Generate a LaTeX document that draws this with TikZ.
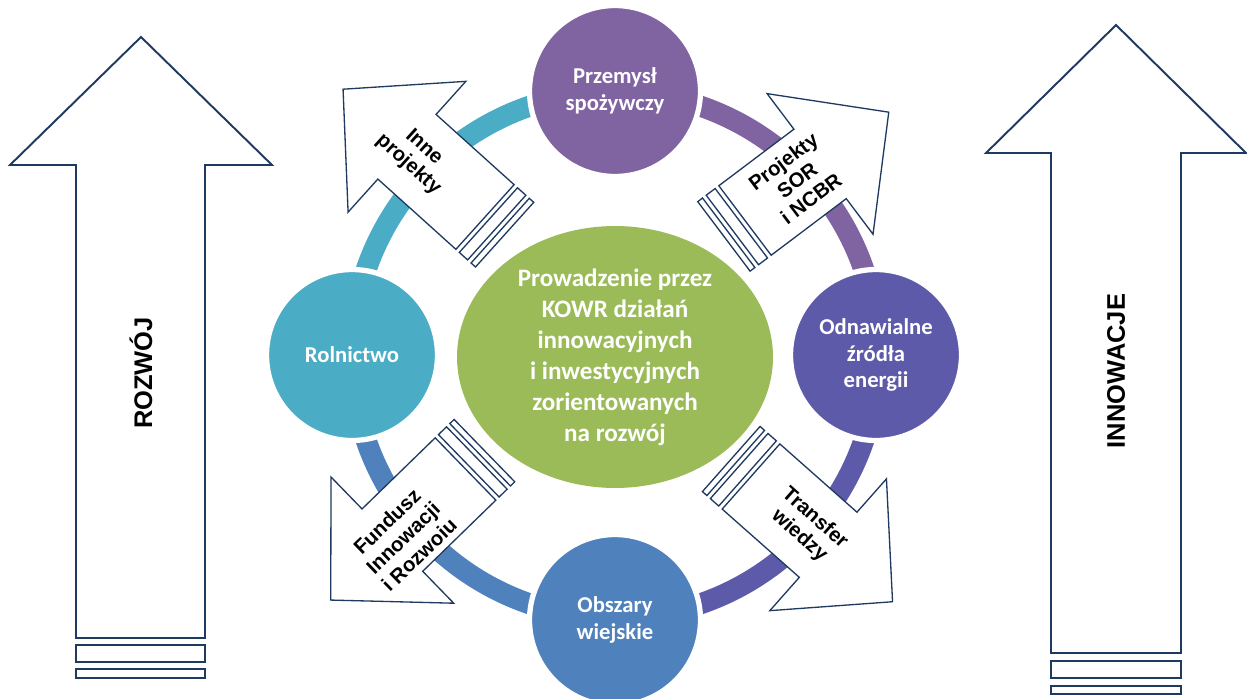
\documentclass[tikz,border=0pt]{standalone}
\usepackage{fontspec}
\setmainfont{Carlito}
\newfontfamily\arialfont{Liberation Sans}
\usetikzlibrary{shapes.geometric}

\tikzset{
  topic/.style={circle, minimum size=3.42cm, inner sep=0, draw=white,
                line width=3pt, text=white, align=center,
                font=\bfseries\fontsize{12.9}{15.3}\selectfont},
  ring arc/.style={line width=0.42cm},
  block arrow/.style={draw=arrowline, fill=white, line width=0.75pt, line join=miter},
  big arrow/.style={draw=arrowline, fill=white, line width=1.1pt, line join=miter},
  arrow label/.style={font=\arialfont\bfseries\fontsize{11.6}{13.2}\selectfont,
                      align=center, inner sep=0},
  side label/.style={font=\arialfont\bfseries\fontsize{14.5}{17}\selectfont,
                     rotate=90, inner sep=0},
}
\definecolor{arrowline}{HTML}{1F3A60}
\definecolor{agrocol}{HTML}{4BACC6}
\definecolor{foodcol}{HTML}{8064A2}
\definecolor{energycol}{HTML}{5E5AAA}
\definecolor{ruralcol}{HTML}{4F81BD}
\definecolor{kowrcol}{HTML}{9BBB59}

\begin{document}
\begin{tikzpicture}[x=0.02cm, y=0.02cm]
    % 1 unit = 1 px of the 1247 x 698 frame, y measured upwards
    \useasboundingbox (0,0) rectangle (1247,698);

    % === Side arrows ===
    \draw[big arrow] (76,60) -- (76,533) -- (10,533) -- (141,661)
      -- (272,533) -- (205,533) -- (205,60) -- cycle;
    \draw[big arrow] (76,53) rectangle (205,36);
    \draw[big arrow] (76,29) rectangle (205,20);
    \node[side label] (growth) at (141,325) {ROZWÓJ};

    \draw[big arrow] (1051,45) -- (1051,545) -- (986,545) -- (1116,673)
      -- (1246,545) -- (1181,545) -- (1181,45) -- cycle;
    \draw[big arrow] (1051,37) rectangle (1181,20);
    \draw[big arrow] (1051,12) rectangle (1181,4);
    \node[side label] (innov) at (1116,327) {INNOWACJE};

    % === Ring (centre 615/343, radius 263) ===
    \coordinate (hub) at (615,343);
    \draw[ring arc, agrocol]   (hub) ++(180:263) arc[start angle=180, end angle=90,   radius=263];
    \draw[ring arc, foodcol]   (hub) ++(90:263)  arc[start angle=90,  end angle=0,    radius=263];
    \draw[ring arc, energycol] (hub) ++(0:263)   arc[start angle=0,   end angle=-90,  radius=263];
    \draw[ring arc, ruralcol]  (hub) ++(-90:263) arc[start angle=-90, end angle=-180, radius=263];

    % === Circles on the ring ===
    \node[topic, fill=foodcol]   (food)   at (615,607) {Przemysł\\spożywczy};
    \node[topic, fill=agrocol]   (agro)   at (352,343) {Rolnictwo};
    \node[topic, fill=energycol] (energy) at (876,343) {Odnawialne\\źródła\\energii};
    \node[topic, fill=ruralcol]  (rural)  at (615,78)  {Obszary\\wiejskie};

    % === Centre ===
    \node[ellipse, fill=kowrcol, minimum width=6.32cm, minimum height=5.24cm,
          inner sep=0, text=white, align=center,
          font=\bfseries\fontsize{14.3}{17.6}\selectfont]
      (kowr) at (615,341)
      {Prowadzenie przez\\KOWR działań\\innowacyjnych\\i inwestycyjnych\\zorientowanych\\na rozwój};

    % === Block arrows: tail x / tail y / angle / shaft length ===
    \foreach \tx/\ty/\ang/\sl in {485/481/138/105, 745/477.5/37/94,
                                  465.5/229/224.2/102, 751/221.5/-41.5/103} {
      \begin{scope}[shift={(\tx,\ty)}, rotate=\ang]
        \draw[block arrow] (0,-43.5) -- (\sl,-43.5) -- (\sl,-88) -- (\sl+86,0)
          -- (\sl,88) -- (\sl,43.5) -- (0,43.5) -- cycle;
        \draw[block arrow] (-4.6,-43.5) rectangle (-15.8,43.5);
        \draw[block arrow] (-20.4,-43.5) rectangle (-26.4,43.5);
      \end{scope}
    }
    \node[arrow label, rotate=-42]   (other)    at (416,542) {Inne\\projekty};
    \node[arrow label, rotate=37]    (sor)      at (797,518) {Projekty\\SOR\\i NCBR};
    \node[arrow label, rotate=44]    (fund)     at (403,160) {Fundusz\\Innowacji\\i Rozwoiu};
    \node[arrow label, rotate=-41.5] (transfer) at (807,171) {Transfer\\wiedzy};

\end{tikzpicture}
\end{document}
